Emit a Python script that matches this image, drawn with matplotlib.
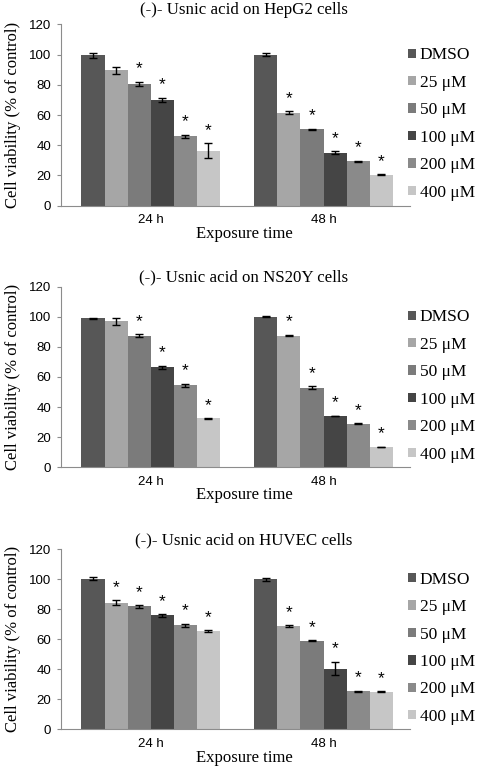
import numpy as np
import matplotlib
matplotlib.use('Agg')
from matplotlib import pyplot as plt

times = ['24 h', '48 h']
doses = ['DMSO', '25 μM', '50 μM', '100 μM', '200 μM', '400 μM']
colors = ['#575757', '#a6a6a6', '#7b7b7b', '#454545', '#8a8a8a', '#c6c6c6']

titles = ['(-)- Usnic acid on HepG2 cells',
          '(-)- Usnic acid on NS20Y cells',
          '(-)- Usnic acid on HUVEC cells']

# rows = dose, columns = 24 h / 48 h
hepg2_mean = [[99.5, 100], [89.5, 61.5], [80.5, 50.5], [70, 35], [46, 29.5], [36.5, 20.5]]
hepg2_err = [[1.5, 1.0], [2.5, 1.0], [1.5, 0.5], [1.5, 1.0], [1.0, 0.3], [5.0, 0.5]]
hepg2_star = [[0, 0], [0, 1], [1, 1], [1, 1], [1, 1], [1, 1]]

ns20y_mean = [[99, 100], [97, 87.5], [87.5, 53], [66.5, 34], [54.5, 29], [32.5, 13.5]]
ns20y_err = [[0.5, 0.2], [2.5, 0.5], [1.0, 1.0], [1.0, 0.2], [1.0, 0.3], [0.3, 0.3]]
ns20y_star = [[0, 0], [0, 1], [1, 1], [1, 1], [1, 1], [1, 1]]

huvec_mean = [[100.5, 100], [84.5, 69], [82, 59], [76, 40.5], [69.5, 25.5], [65.5, 25]]
huvec_err = [[1.0, 1.0], [1.5, 0.5], [0.8, 0.4], [0.8, 4.5], [1.0, 0.3], [0.4, 0.3]]
huvec_star = [[0, 0], [1, 1], [1, 1], [1, 1], [1, 1], [1, 1]]

panels = [(hepg2_mean, hepg2_err, hepg2_star),
          (ns20y_mean, ns20y_err, ns20y_star),
          (huvec_mean, huvec_err, huvec_star)]

serif = 'Liberation Serif'
sans = 'Liberation Sans'

H = 769.0
W = 488.0
# axes top / bottom in pixels, and title / xlabel centre in pixels
ax_px = [(24.3, 205.7, 10, 234), (286.7, 467.3, 277.7, 495), (549.3, 729.3, 540.7, 758)]

fig = plt.figure(figsize=(4.88, 7.69), dpi=100)

x = np.arange(len(times))
width = 0.8 / len(doses)

for (mean, err, star), title, (top, bot, ty, xy) in zip(panels, titles, ax_px):
    left = 60.7 / W
    right = 410 / W
    ax = fig.add_axes([left, 1 - bot / H, right - left, (bot - top) / H])
    for i, d in enumerate(doses):
        pos = x - 0.4 + width * (i + 0.5)
        ax.bar(pos, mean[i], width, color=colors[i], label=d,
               yerr=err[i], error_kw=dict(ecolor='black', elinewidth=1, capsize=3, capthick=1))
        for j in range(len(times)):
            if star[i][j]:
                ax.text(pos[j], mean[i][j] + err[i][j] + 3.5, '*', ha='center', va='bottom',
                        fontsize=12.5, family=sans)
    ax.set_xlim(-0.52, 1.5)
    ax.set_ylim(0, 120)
    ax.set_yticks(range(0, 121, 20))
    ax.set_xticks(x)
    ax.set_xticklabels(times)
    for s in ['top', 'right']:
        ax.spines[s].set_visible(False)
    for s in ['left', 'bottom']:
        ax.spines[s].set_color('#8c8c8c')
        ax.spines[s].set_linewidth(0.8)
    ax.tick_params(axis='x', length=0, labelsize=9.5, pad=6)
    ax.tick_params(axis='y', length=3, color='#8c8c8c', labelsize=9.5, pad=4)
    for lab in ax.get_xticklabels() + ax.get_yticklabels():
        lab.set_family(sans)
    leg = ax.legend(loc='center left', bbox_to_anchor=(0.995, 0.45), frameon=False,
                    prop={'family': serif, 'size': 12.5}, handlelength=0.45, handleheight=0.45,
                    handletextpad=0.2, labelspacing=0.66, borderpad=0, borderaxespad=0)
    fig.text(0.5, 1 - ty / H, title, ha='center', va='center', family=serif, fontsize=12.2)
    fig.text(0.5, 1 - xy / H, 'Exposure time', ha='center', va='center', family=serif, fontsize=12)
    fig.text(12.7 / W, 1 - (top + bot) / 2 / H, 'Cell viability (% of control)', rotation=90,
             ha='center', va='center', family=serif, fontsize=12)

plt.savefig('out.png', dpi=100)
